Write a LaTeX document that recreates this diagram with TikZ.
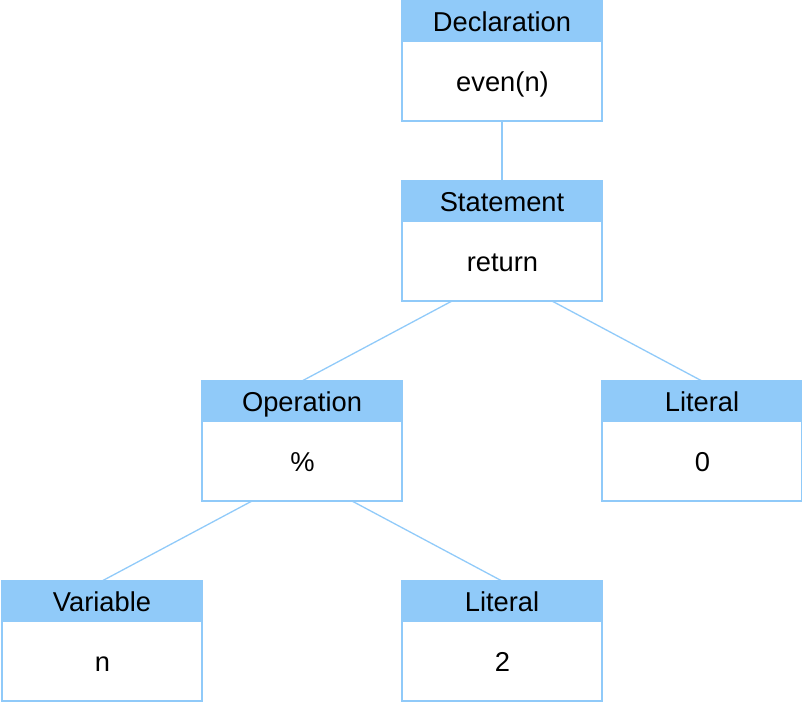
\documentclass[tikz,border=0pt]{standalone}
\usepackage{fontspec}
\setmainfont{Liberation Sans}
\usetikzlibrary{calc}
\definecolor{lb}{HTML}{90CAF9}
\tikzset{
  entbox/.style={draw=lb, line width=1.3pt, minimum width=200pt, minimum height=120pt, inner sep=0pt, outer sep=0pt},
  enthdr/.style={fill=lb, draw=lb, line width=1.3pt, minimum width=200pt, minimum height=40pt, inner sep=0pt, outer sep=0pt},
  enttext/.style={inner sep=0pt, anchor=base, text=black, font=\fontsize{27.3}{31}\selectfont},
  conn/.style={draw=lb, line width=1.3pt}
}
\newcommand\umlentity[5]{%
  \node[entbox] (#1) at (#2,#3) {};
  \node[enthdr, anchor=north] (#1h) at (#1.north) {};
  \node[enttext] (#1t) at ($(#1.center)+(0,-29.5)$) {#4};
  \node[enttext] (#1b) at ($(#1.center)+(0.5,30.5)$) {#5};
}
\begin{document}
\begin{tikzpicture}[x=1pt,y=-1pt]
  \useasboundingbox (0,0) rectangle (802,704);
  \umlentity{decl}{502}{61}{Declaration}{even(n)}
  \umlentity{stmt}{502}{241}{Statement}{return}
  \umlentity{oper}{302}{441}{Operation}{\%}
  \umlentity{lita}{702}{441}{Literal}{0}
  \umlentity{vari}{102}{641}{Variable}{n}
  \umlentity{litb}{502}{641}{Literal}{2}
  \draw[conn] (decl.south) -- (stmt.north);
  \draw[conn] ($(stmt.south)+(-50,0)$) -- (oper.north);
  \draw[conn] ($(stmt.south)+(50,0)$) -- (lita.north);
  \draw[conn] ($(oper.south)+(-50,0)$) -- (vari.north);
  \draw[conn] ($(oper.south)+(50,0)$) -- (litb.north);
\end{tikzpicture}
\end{document}
